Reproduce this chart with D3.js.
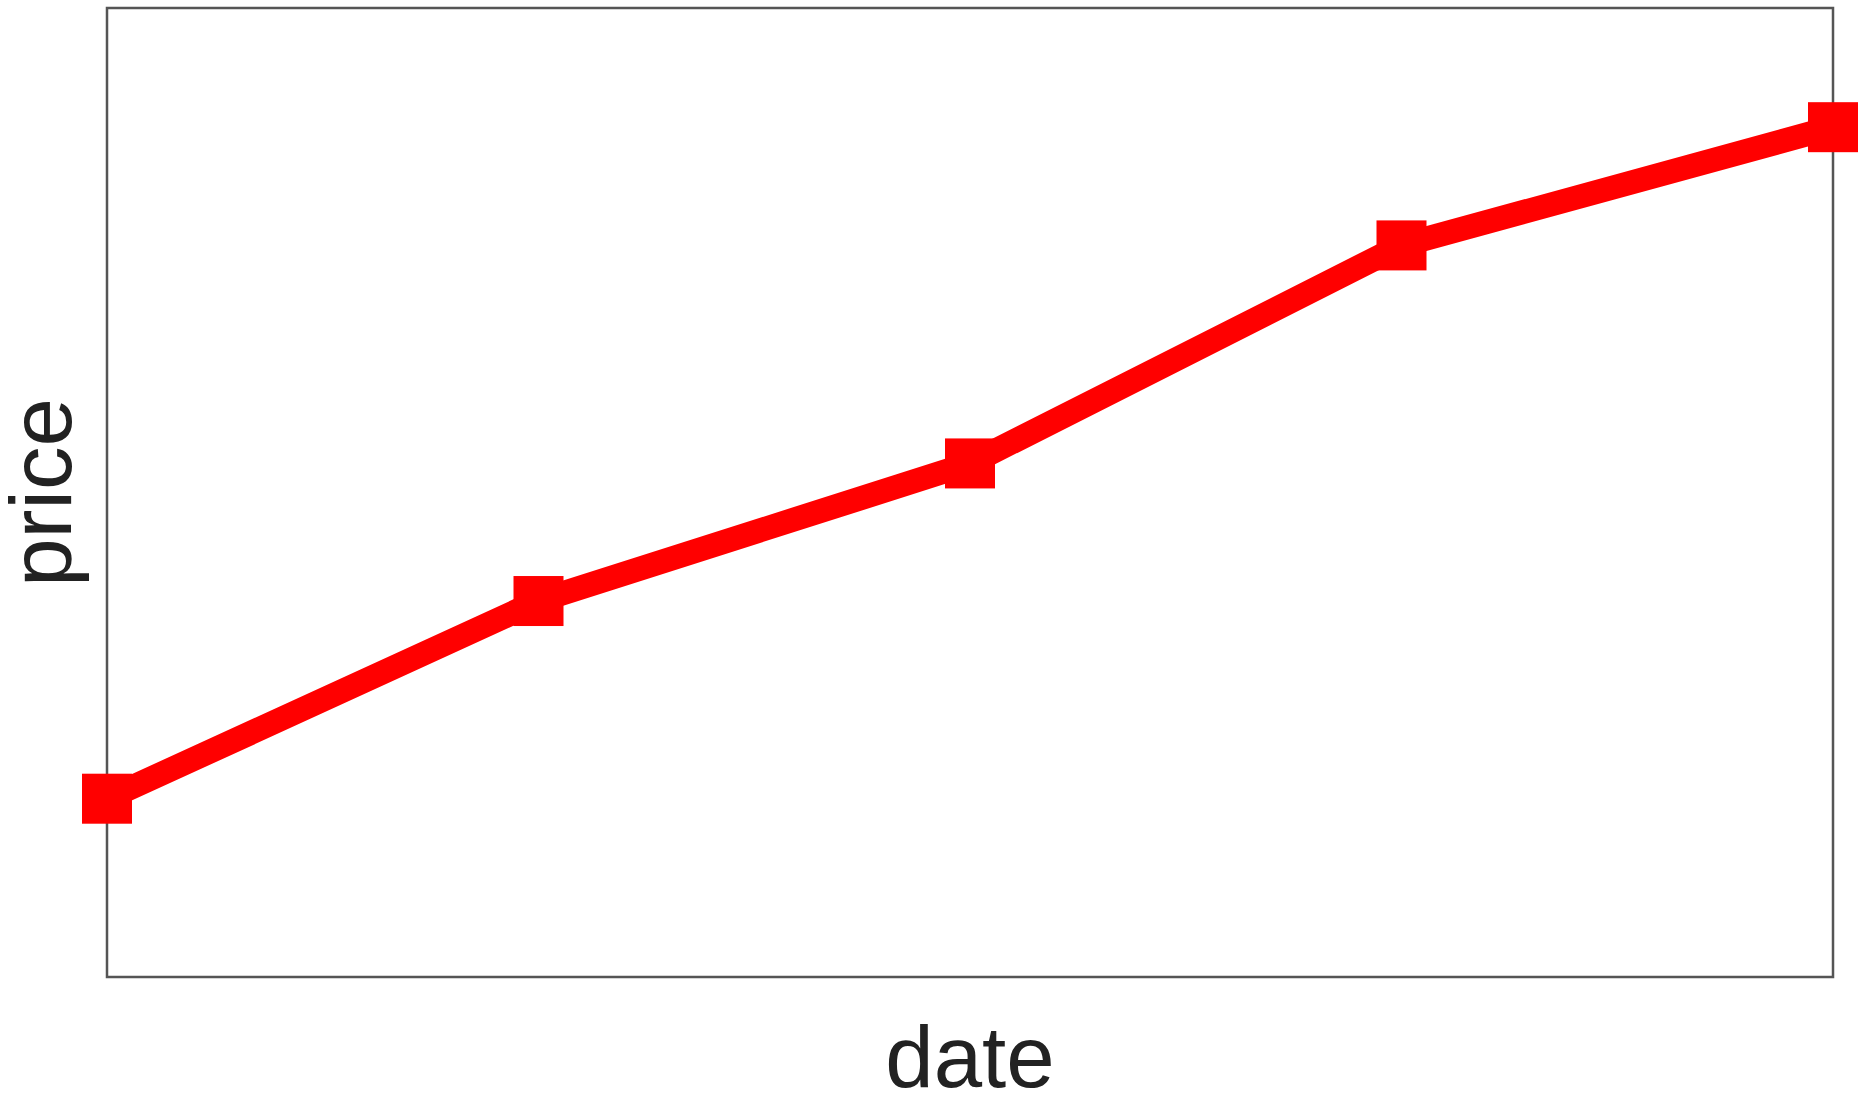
<!DOCTYPE html>
<html>
<head>
<meta charset="utf-8">
<script src="https://cdn.jsdelivr.net/npm/d3@7"></script>
<style>
	body { margin: 0; background: #fff; }
	.frame { fill: none; stroke: #555; stroke-width: 2.5; }
	.line { fill: none; stroke: #ff0000; stroke-width: 24; stroke-linejoin: round; }
	.dot { fill: #ff0000; }
	.label { font-family: "Liberation Sans", Arial, sans-serif; font-size: 87px; fill: #222; }
</style>
</head>
<body>
<div id="chart"></div>
<script>
let dates	= ["d1", "d2", "d3", "d4", "d5"];
let prices	= [18.4, 38.8, 53.0, 75.5, 87.7];
let yDomain	= [0, 100];

let canvasWidth		= 1867;
let canvasHeight	= 1104;
let margin			= { top: 8, right: 34, bottom: 127, left: 107 };
let width			= canvasWidth - margin.left - margin.right;
let height			= canvasHeight - margin.top - margin.bottom;

let data	= dates.map((o, i) => ({ date: o, value: prices[i] }));

let x	= d3.scalePoint().range([0, width]).domain(dates).padding(0);
let y	= d3.scaleLinear().range([height, 0]).domain(yDomain);

let line	= d3.line()
	.x((o) => x(o.date))
	.y((o) => y(o.value));

let svg = d3.select("#chart").append("svg")
	.attr("width", canvasWidth)
	.attr("height", canvasHeight)
	.append("g")
	.attr("transform", "translate(" + margin.left + "," + margin.top + ")");

svg.append("rect")
	.attr("class", "frame")
	.attr("width", width)
	.attr("height", height);

svg.append("path")
	.datum(data)
	.attr("class", "line")
	.attr("d", line);

let size = 50;
svg.selectAll(".dot")
	.data(data)
	.enter().append("rect")
		.attr("class", "dot")
		.attr("x", (o) => x(o.date) - size / 2)
		.attr("y", (o) => y(o.value) - size / 2)
		.attr("width", size)
		.attr("height", size);

svg.append("text")
	.attr("class", "label")
	.attr("text-anchor", "middle")
	.attr("x", width / 2)
	.attr("y", height + 110)
	.text("date");

svg.append("text")
	.attr("class", "label")
	.attr("text-anchor", "middle")
	.attr("transform", "translate(" + (71 - margin.left) + "," + (height / 2) + ") rotate(-90)")
	.text("price");
</script>
</body>
</html>
